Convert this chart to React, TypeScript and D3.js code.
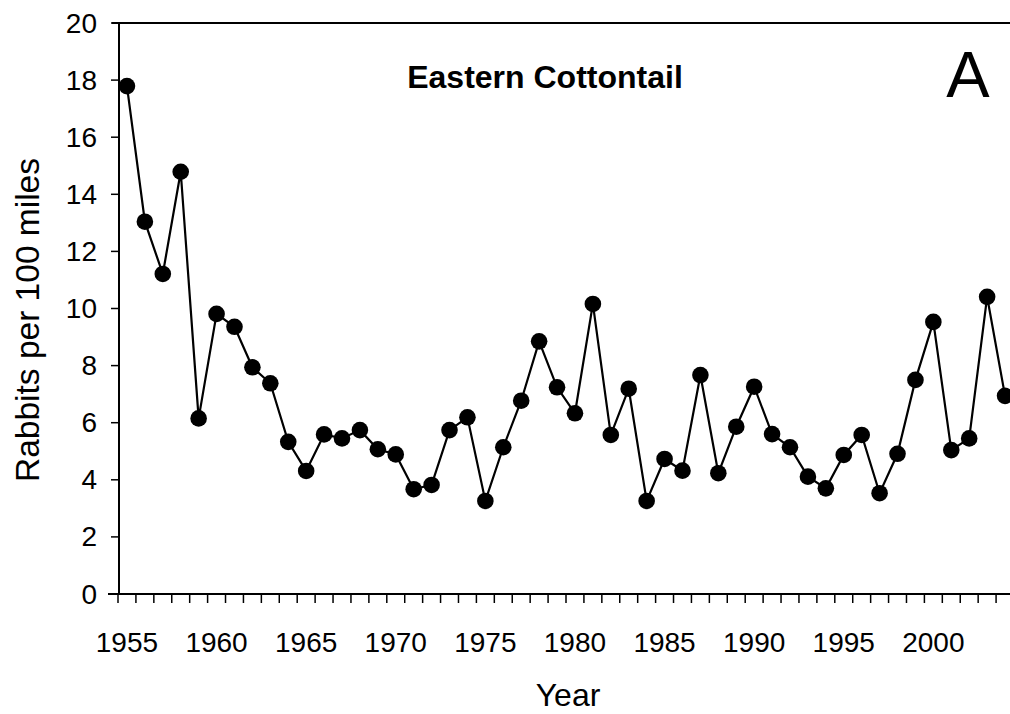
import React, { useEffect, useRef } from 'react';
import * as d3 from 'd3';

const years: number[] = d3.range(1955, 2005);
const rabbits: number[] = [
  17.79, 13.04, 11.21, 14.79, 6.15, 9.81, 9.36, 7.94, 7.38, 5.33,
  4.31, 5.59, 5.45, 5.74, 5.07, 4.89, 3.67, 3.82, 5.74, 6.19,
  3.26, 5.14, 6.77, 8.85, 7.24, 6.33, 10.16, 5.57, 7.19, 3.26,
  4.73, 4.32, 7.67, 4.23, 5.86, 7.26, 5.6, 5.14, 4.11, 3.7,
  4.87, 5.57, 3.53, 4.91, 7.5, 9.53, 5.04, 5.45, 10.41, 6.94
];
const yTicks: number[] = [0, 2, 4, 6, 8, 10, 12, 14, 16, 18, 20];
const xLabels: number[] = [1955, 1960, 1965, 1970, 1975, 1980, 1985, 1990, 1995, 2000];

const title = 'Eastern Cottontail';
const panelLetter = 'A';
const xTitle = 'Year';
const yTitle = 'Rabbits per 100 miles';

const W = 1010;
const H = 714;
const FONT = '"Liberation Sans", Arial, sans-serif';

const App: React.FC = () => {
  const svgRef = useRef<SVGSVGElement>(null);

  useEffect(() => {
    if (!svgRef.current) return;
    const svg = d3.select(svgRef.current);
    svg.selectAll('*').remove();

    const left = 118;
    const top = 23;
    const bottom = 594;
    const bandW = 17.92;

    const x = d3.scaleBand<number>()
      .domain(years)
      .range([left, left + bandW * years.length])
      .padding(0);
    const y = d3.scaleLinear().domain([0, 20]).range([bottom, top]);
    const cx = (yr: number) => (x(yr) || 0) + x.bandwidth() / 2;

    // frame: top line, y axis, x axis
    svg.append('line')
      .attr('x1', left - 6).attr('x2', W).attr('y1', y(20)).attr('y2', y(20))
      .attr('stroke', '#000').attr('stroke-width', 2);
    svg.append('line')
      .attr('x1', left + 1).attr('x2', left + 1).attr('y1', y(20)).attr('y2', y(0))
      .attr('stroke', '#000').attr('stroke-width', 2);
    svg.append('line')
      .attr('x1', left - 10).attr('x2', W).attr('y1', y(0)).attr('y2', y(0))
      .attr('stroke', '#000').attr('stroke-width', 2);

    // y ticks + labels
    yTicks.forEach(t => {
      svg.append('line')
        .attr('x1', left - 7).attr('x2', left + 1).attr('y1', y(t)).attr('y2', y(t))
        .attr('stroke', '#000').attr('stroke-width', 1.5);
      svg.append('text')
        .attr('x', 97).attr('y', y(t))
        .attr('text-anchor', 'end')
        .attr('dominant-baseline', 'central')
        .style('font-family', FONT)
        .style('font-size', '28px')
        .text(t);
    });

    // x ticks between categories
    years.concat([years[years.length - 1] + 1]).forEach((_yr, i) => {
      const tx = left + i * bandW;
      svg.append('line')
        .attr('x1', tx).attr('x2', tx).attr('y1', y(0)).attr('y2', y(0) + 9)
        .attr('stroke', '#000').attr('stroke-width', 1.5);
    });

    xLabels.forEach(yr => {
      svg.append('text')
        .attr('x', cx(yr)).attr('y', 652)
        .attr('text-anchor', 'middle')
        .style('font-family', FONT)
        .style('font-size', '28px')
        .text(yr);
    });

    // series line
    const line = d3.line<number>()
      .x((_d, i) => cx(years[i]))
      .y(d => y(d));
    svg.append('path')
      .datum(rabbits)
      .attr('d', line)
      .attr('fill', 'none')
      .attr('stroke', '#000')
      .attr('stroke-width', 2.2);

    svg.selectAll('circle.pt')
      .data(rabbits)
      .enter()
      .append('circle')
      .attr('class', 'pt')
      .attr('cx', (_d, i) => cx(years[i]))
      .attr('cy', d => y(d))
      .attr('r', 8.3)
      .attr('fill', '#000');

    // titles
    svg.append('text')
      .attr('x', 545).attr('y', 88)
      .attr('text-anchor', 'middle')
      .style('font-family', FONT)
      .style('font-size', '32px')
      .style('font-weight', 'bold')
      .text(title);

    svg.append('text')
      .attr('x', 968).attr('y', 97)
      .attr('text-anchor', 'middle')
      .style('font-family', FONT)
      .style('font-size', '65px')
      .text(panelLetter);

    svg.append('text')
      .attr('x', 568).attr('y', 706)
      .attr('text-anchor', 'middle')
      .style('font-family', FONT)
      .style('font-size', '32px')
      .text(xTitle);

    svg.append('text')
      .attr('transform', `translate(39,320) rotate(-90)`)
      .attr('text-anchor', 'middle')
      .style('font-family', FONT)
      .style('font-size', '33.5px')
      .text(yTitle);
  }, []);

  return (
    <svg
      ref={svgRef}
      width={W}
      height={H}
      style={{ position: 'absolute', left: 0, top: 0, background: '#fff' }}
    />
  );
};

export default App;
